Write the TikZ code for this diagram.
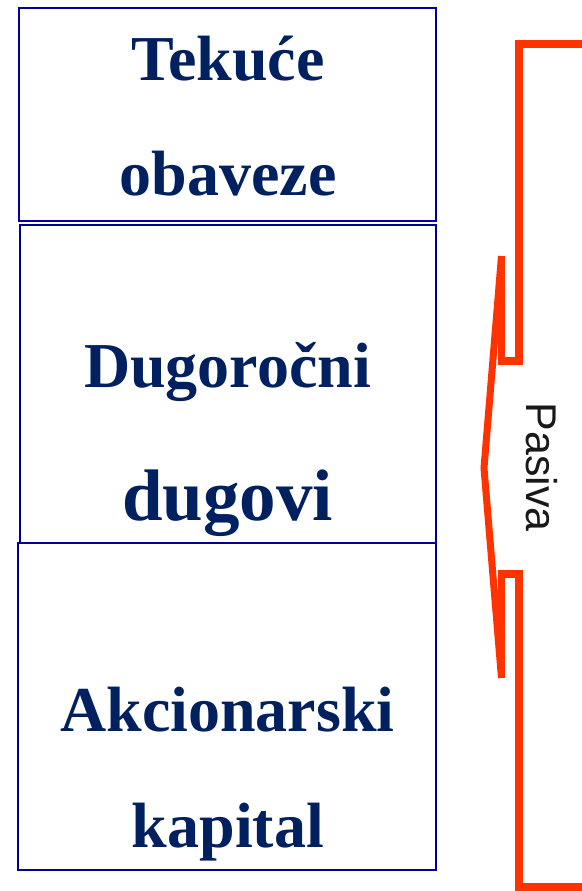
\documentclass[tikz,border=0pt]{standalone}
\usepackage{fontspec}
\setmainfont{Liberation Serif}
\newfontfamily\pasfont{Liberation Sans}
\definecolor{navytxt}{RGB}{0,32,96}
\definecolor{boxblue}{RGB}{0,0,153}
\definecolor{bracketred}{RGB}{255,51,0}
\tikzset{
  itembox/.style={draw=boxblue, line width=1.8pt},
  itemtext/.style={anchor=base, text=navytxt, font=\bfseries\fontsize{64}{64}\selectfont, inner sep=0pt},
  bigtext/.style={anchor=base, text=navytxt, font=\bfseries\fontsize{73}{73}\selectfont, inner sep=0pt},
  redline/.style={draw=bracketred, line width=7.5pt},
}
\begin{document}
\begin{tikzpicture}[x=1pt,y=-1pt]
\path[use as bounding box] (0,0) rectangle (581,891);
% boxes
\draw[itembox] (19,8) rectangle (436,221);
\draw[itembox] (20,225) rectangle (436,543);
\draw[itembox] (18,543) rectangle (436,870);
% texts
\node[itemtext] (t1) at (228,81) {Tekuće};
\node[itemtext] (t2) at (228,195) {obaveze};
\node[itemtext] (t3) at (227.5,387) {Dugoročni};
\node[bigtext] (t4) at (227.5,520) {dugovi};
\node[itemtext] (t5) at (227.5,731) {Akcionarski};
\node[itemtext] (t6) at (228,847) {kapital};
% bracket
\coordinate (a1) at (590,44);
\coordinate (a2) at (519,44);
\coordinate (a3) at (519,361);
\coordinate (a4) at (501.5,361);
\coordinate (a5) at (501.5,256);
\coordinate (tip) at (484,468);
\coordinate (b5) at (501.5,678);
\coordinate (b4) at (501.5,574);
\coordinate (b3) at (519,574);
\coordinate (b2) at (519,887);
\coordinate (b1) at (590,887);
\draw[redline] (a1) -- (a2) -- (a3) -- (a4) -- (a5);
\draw[redline, line width=7pt] (a5) -- (tip) -- (b5);
\draw[redline] (b5) -- (b4) -- (b3) -- (b2) -- (b1);
\node[rotate=-90, font=\pasfont\fontsize{43}{43}\selectfont, text={rgb,255:red,25;green,25;blue,25}, inner sep=0pt] (pas) at (542,467) {Pasiva};
\end{tikzpicture}
\end{document}
